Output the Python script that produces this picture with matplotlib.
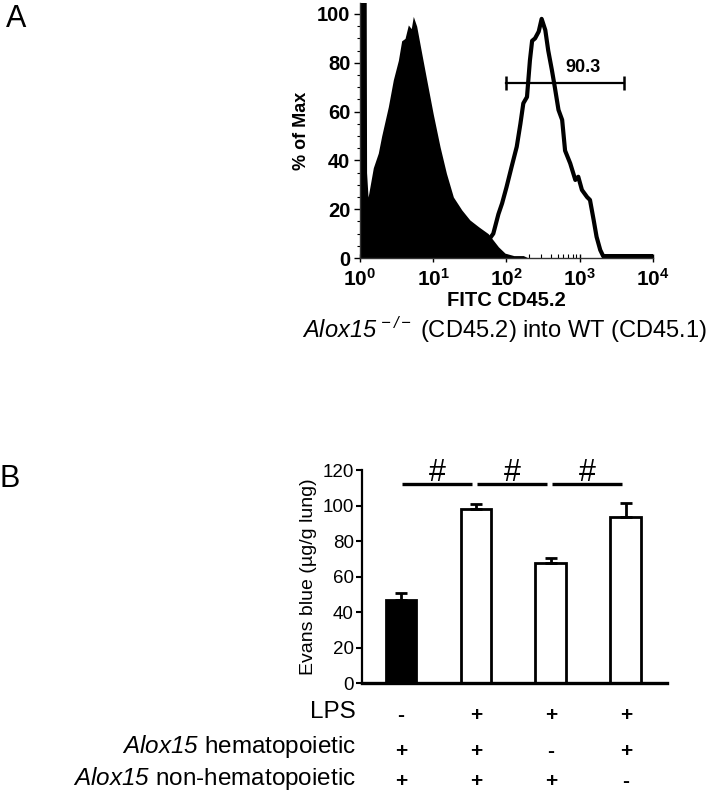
import numpy as np
import matplotlib
matplotlib.use("Agg")
import matplotlib.pyplot as plt
from matplotlib import transforms
from matplotlib.ticker import MultipleLocator, LogLocator, NullFormatter, FixedLocator

plt.rcParams["font.family"] = ["Liberation Sans", "DejaVu Sans"]
plt.rcParams["mathtext.fontset"] = "custom"
# math mode is only used for the italic gene name and the bold 10^n labels
plt.rcParams["mathtext.rm"] = "Liberation Sans:italic"
plt.rcParams["mathtext.it"] = "Liberation Sans:italic"
plt.rcParams["mathtext.bf"] = "Liberation Sans:bold"

# === Panel A: flow histogram (x as log10 exponent, y as % of max) ===
fill_exp = [0.0, 0.085, 0.09, 0.10, 0.11, 0.12, 0.182, 0.25, 0.296, 0.387, 0.455,
            0.524, 0.569, 0.615, 0.66, 0.70, 0.728, 0.774, 0.842, 0.911, 1.0, 1.093,
            1.18, 1.275, 1.39, 1.50, 1.62, 1.75, 1.89, 1.98, 2.1, 2.23, 2.3]
fill_pct = [105, 105, 35, 30, 25, 26.5, 37, 43, 50, 62, 73,
            81, 89, 90, 95.5, 94, 99, 95, 84, 73, 59, 45.6,
            34.7, 25, 19.7, 15.6, 12.8, 10, 4.6, 2, 1, 1, 0]

open_exp = [1.5, 1.7, 1.82, 1.89, 1.94, 2.0, 2.07, 2.14, 2.19, 2.23, 2.28, 2.32, 2.35, 2.39,
            2.44, 2.48, 2.53, 2.57, 2.62, 2.66, 2.71, 2.76, 2.80, 2.87, 2.94, 2.98,
            3.03, 3.10, 3.14, 3.19, 3.23, 3.28, 3.32, 4.0]
open_pct = [2, 5, 10, 18, 22.4, 29, 37.4, 45.6, 55, 63.4, 66, 81, 89, 90,
            92.8, 98, 93.4, 85, 77, 70, 60.7, 56.6, 44, 38.8, 32, 33.3,
            27.9, 25, 23.8, 15.6, 8.7, 3.3, 0.8, 0.8]

gate_lo, gate_hi, gate_y = 100, 4000, 71.6
gate_label = "90.3"
a_xticks = [1, 10, 100, 1000, 10000]
a_xtick_labels = [r"$\mathbf{10^{0}}$", r"$\mathbf{10^{1}}$", r"$\mathbf{10^{2}}$",
                  r"$\mathbf{10^{3}}$", r"$\mathbf{10^{4}}$"]

# === Panel B: Evans blue bars ===
b_values = [46.5, 98.2, 67.4, 93.7]
b_errors = [4.4, 2.8, 2.8, 8.0]
b_colors = ["black", "white", "white", "white"]
sig_pairs = [(0, 1), (1, 2), (2, 3)]
table_rows = ["LPS", r"$Alox15$ hematopoietic", r"$Alox15$ non-hematopoietic"]
table_signs = [["-", "+", "+", "+"],
               ["+", "+", "-", "+"],
               ["+", "+", "+", "-"]]

fig = plt.figure(figsize=(7.12, 7.92), dpi=100)

# --- panel A ---
axA = fig.add_axes([0.5056, 0.6742, 0.4115, 0.322])
axA.plot(10 ** np.array(open_exp), open_pct, color="black", lw=3.0, zorder=1)
axA.fill_between(10 ** np.array(fill_exp), fill_pct, 0, color="black", lw=0, zorder=2)
axA.set_xscale("log")
axA.set_xlim(1, 1e4)
axA.set_ylim(0, 104.5)
for s in ["top", "right"]:
    axA.spines[s].set_visible(False)
for s in ["left", "bottom"]:
    axA.spines[s].set_linewidth(1.0)
    axA.spines[s].set_color("#333333")
axA.xaxis.set_major_locator(FixedLocator(a_xticks))
axA.set_xticklabels(a_xtick_labels, fontsize=15)
axA.xaxis.set_minor_locator(LogLocator(base=10, subs=np.arange(2, 10)))
axA.xaxis.set_minor_formatter(NullFormatter())
axA.set_yticks([0, 20, 40, 60, 80, 100])
axA.set_yticklabels(["0", "20", "40", "60", "80", "100"], fontsize=14.5, fontweight="bold")
axA.yaxis.set_minor_locator(MultipleLocator(5))
axA.tick_params(axis="y", which="major", direction="out", length=4, width=1, pad=3)
axA.tick_params(axis="y", which="minor", direction="out", length=2.5, width=0.8)
axA.tick_params(axis="x", which="major", direction="inout", length=6, width=1, pad=4)
axA.tick_params(axis="x", which="minor", direction="in", length=3, width=0.8)
axA.set_ylabel("% of Max", fontsize=13, fontweight="bold", labelpad=5)
axA.set_xlabel("FITC CD45.2", fontsize=14.5, fontweight="bold", labelpad=1)

axA.plot([gate_lo, gate_hi], [gate_y, gate_y], color="black", lw=1.6,
         marker="|", markersize=10, markeredgewidth=1.8, zorder=3)
axA.text(10 ** 3.05, gate_y + 3, gate_label, ha="center", va="bottom",
         fontsize=13, fontweight="bold")

fig.text(504 / 712, 1 - 338 / 792,
         r"$Alox15^{\,-/-}$ (CD45.2) into WT (CD45.1)",
         ha="center", va="baseline", fontsize=17)

# --- panel B ---
axB = fig.add_axes([0.5084, 0.1376, 0.4284, 0.2689])
x = np.arange(len(b_values))
axB.bar(x, b_values, width=0.41, color=b_colors, edgecolor="black", linewidth=2, zorder=2)
axB.errorbar(x, b_values, yerr=[np.zeros(len(b_errors)), b_errors], fmt="none",
             ecolor="black", elinewidth=2, capsize=4, capthick=2, zorder=3)
axB.set_xlim(-0.52, 3.55)
axB.set_ylim(0, 120)
axB.set_yticks(np.arange(0, 121, 20))
axB.tick_params(axis="y", labelsize=13.5, direction="out", length=4, width=1.5, pad=2)
axB.set_xticks([])
for s in ["top", "right"]:
    axB.spines[s].set_visible(False)
axB.spines["left"].set_linewidth(1.6)
axB.spines["bottom"].set_linewidth(2.4)
axB.set_ylabel("Evans blue (\u00b5g/g lung)", fontsize=14, labelpad=4)

for a, b in sig_pairs:
    axB.plot([a + 0.02, b - 0.05], [112, 112], color="black", lw=2.4,
             solid_capstyle="butt", clip_on=False)
    axB.text(a + 0.49, 118.5, "#", ha="center", va="center", fontsize=22, clip_on=False)

trans = transforms.blended_transform_factory(axB.transData, fig.transFigure)
row_base = [1 - 718 / 792, 1 - 753 / 792, 1 - 785 / 792]
sign_base = [1 - 721 / 792, 1 - 757 / 792, 1 - 787 / 792]
for r, label in enumerate(table_rows):
    fig.text(356 / 712, row_base[r], label, ha="right", va="baseline", fontsize=17.5)
    for i, sgn in enumerate(table_signs[r]):
        fig.text(x[i], sign_base[r], sgn, transform=trans, ha="center", va="baseline",
                 fontsize=15, fontweight="bold")

fig.text(0.008, 0.995, "A", fontsize=22, va="top", ha="left")
fig.text(0.0, 1 - 464 / 792, "B", fontsize=22, va="top", ha="left")

fig.savefig("out.png", dpi=100)
